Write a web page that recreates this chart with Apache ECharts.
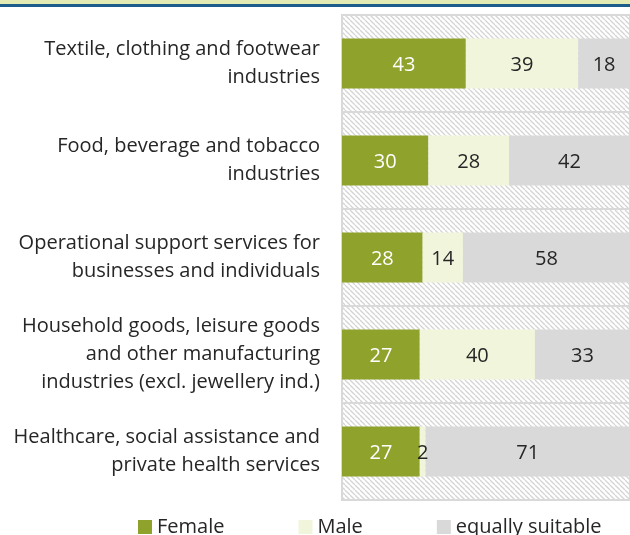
<!DOCTYPE html>
<html><head><meta charset="utf-8">
<script src="https://cdn.jsdelivr.net/npm/echarts@6/dist/echarts.min.js"></script>
<style>html,body{margin:0;padding:0;background:#fff}#c{width:630px;height:535px}</style>
</head><body><div id="c"></div>
<script>
const categories = [
  'Textile, clothing and footwear\nindustries',
  'Food, beverage and tobacco\nindustries',
  'Operational support services for\nbusinesses and individuals',
  'Household goods, leisure goods\nand other manufacturing\nindustries (excl. jewellery ind.)',
  'Healthcare, social assistance and\nprivate health services'
];
const female = [43, 30, 28, 27, 27];
const male = [39, 28, 14, 40, 2];
const equally = [18, 42, 58, 33, 71];
const seriesNames = ['Female', 'Male', 'equally suitable'];

const FONT = '"Open Sans", sans-serif';
const tile = document.createElement('canvas');
tile.width = 5; tile.height = 5;
const g = tile.getContext('2d');
g.fillStyle = '#ffffff'; g.fillRect(0, 0, 5, 5);
g.strokeStyle = '#d4d4d4'; g.lineWidth = 1.3;
for (const o of [-5, 0, 5]) { g.beginPath(); g.moveTo(o, 0); g.lineTo(o + 5, 5); g.stroke(); }

const chart = echarts.init(document.getElementById('c'), null, {renderer: 'canvas'});
const lbl = (color) => ({show: true, position: 'inside', offset: [0, 2], color: color, fontSize: 20, fontFamily: FONT});
chart.setOption({
  animation: false,
  graphic: [
    {type: 'rect', shape: {x: 0, y: 0, width: 630, height: 4}, style: {fill: '#e3eab3'}},
    {type: 'rect', shape: {x: 0, y: 4, width: 630, height: 3}, style: {fill: '#1c5c8a'}}
  ],
  grid: {left: 342, top: 15, width: 292, height: 485, show: true,
         backgroundColor: {image: tile, repeat: 'repeat'}, borderColor: '#d9d9d9', borderWidth: 2},
  legend: {left: 138, top: 517, padding: 0, itemWidth: 14, itemHeight: 14, itemGap: 74, icon: 'rect',
           textStyle: {fontSize: 20, fontFamily: FONT, color: '#262626'},
           data: seriesNames},
  xAxis: {type: 'value', min: 0, max: 100, show: false},
  yAxis: {type: 'category', inverse: true, data: categories,
          axisLine: {show: false}, axisTick: {show: false},
          splitLine: {show: true, lineStyle: {color: '#d9d9d9', width: 2}},
          axisLabel: {margin: 22, fontSize: 20, lineHeight: 28, color: '#262626', fontFamily: FONT, align: 'right'}},
  series: [
    {name: seriesNames[0], type: 'bar', stack: 's', barWidth: 50, data: female,
     itemStyle: {color: '#8fa22b'}, label: lbl('#ffffff')},
    {name: seriesNames[1], type: 'bar', stack: 's', barWidth: 50, data: male,
     itemStyle: {color: '#f0f5dc'}, label: lbl('#262626')},
    {name: seriesNames[2], type: 'bar', stack: 's', barWidth: 50, data: equally,
     itemStyle: {color: '#d9d9d9'}, label: lbl('#262626')}
  ]
});
</script></body></html>
